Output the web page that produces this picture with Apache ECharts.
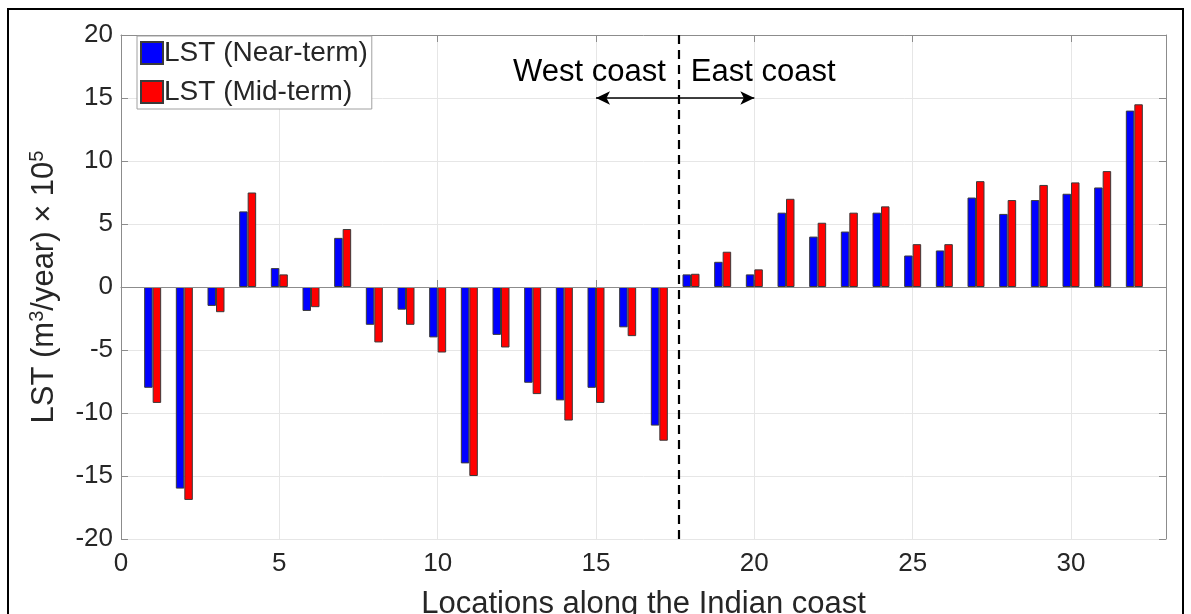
<!DOCTYPE html>
<html><head><meta charset="utf-8">
<script src="https://cdn.jsdelivr.net/npm/echarts@6/dist/echarts.min.js"></script>
<style>html,body{margin:0;padding:0;background:#fff}#c{width:1191px;height:614px}</style>
</head><body><div id="c"></div>
<script>
// ---- data ----
const locations = [1,2,3,4,5,6,7,8,9,10,11,12,13,14,15,16,17,18,19,20,21,22,23,24,25,26,27,28,29,30,31,32];
const nearTerm = [-8.0,-16.0,-1.5,6.0,1.5,-1.9,3.9,-3.0,-1.8,-4.0,-14.0,-3.8,-7.6,-9.0,-8.0,-3.2,-11.0,
                  1.0,2.0,1.0,5.9,4.0,4.4,5.9,2.5,2.9,7.1,5.8,6.9,7.4,7.9,14.0];
const midTerm  = [-9.2,-16.9,-2.0,7.5,1.0,-1.6,4.6,-4.4,-3.0,-5.2,-15.0,-4.8,-8.5,-10.6,-9.2,-3.9,-12.2,
                  1.05,2.8,1.4,7.0,5.1,5.9,6.4,3.4,3.4,8.4,6.9,8.1,8.3,9.2,14.5];
const seriesNames = ['LST (Near-term)', 'LST (Mid-term)'];
const xTicks = [0,5,10,15,20,25,30];
const yTicks = [-20,-15,-10,-5,0,5,10,15,20];
const coastDivider = 17.6;
const arrowFrom = 15, arrowTo = 20, arrowY = 15, textY = 17;
const westLabel = 'West coast', eastLabel = 'East coast';

const chart = echarts.init(document.getElementById('c'));
const font = 'Liberation Sans, Arial, Helvetica, sans-serif';
const txt = '#262626';
const axisGray = '#8c8c8c';

const near = locations.map((x, i) => [x, nearTerm[i]]);
const mid = locations.map((x, i) => [x, midTerm[i]]);

chart.setOption({
  animation: false,
  backgroundColor: '#fff',
  textStyle: { fontFamily: font },
  graphic: [{
    type: 'rect', shape: { x: 8, y: 9, width: 1175, height: 640 },
    style: { fill: 'none', stroke: '#000', lineWidth: 2 }, silent: true, z: 100
  }],
  grid: { left: 121, right: 25, top: 35, bottom: 75, containLabel: false, outerBoundsMode: 'none' },
  legend: {
    data: seriesNames, orient: 'vertical', left: 137, top: 36,
    icon: 'rect', itemWidth: 22, itemHeight: 22, itemGap: 11,
    borderColor: '#a0a0a0', borderWidth: 1, backgroundColor: '#fff',
    padding: [3, 4, 3, 3],
    textStyle: { fontSize: 28, color: txt, fontFamily: font, padding: [0,0,0,-4] }
  },
  xAxis: [{
    type: 'value', min: 0, max: 33, interval: 5,
    name: 'Locations along the Indian coast', nameLocation: 'middle', nameGap: 50,
    nameTextStyle: { fontSize: 31, color: txt, fontFamily: font },
    axisLine: { show: true, lineStyle: { color: axisGray } },
    axisTick: { show: true, inside: true, length: 7, lineStyle: { color: axisGray } },
    axisLabel: { fontSize: 26, color: txt, margin: 12, showMaxLabel: false,
      formatter: v => xTicks.includes(v) ? String(v) : '' },
    splitLine: { show: true, lineStyle: { color: '#e6e6e6' } }
  }, {
    type: 'value', min: 0, max: 33, interval: 5, position: 'top',
    axisLine: { show: true, onZero: false, lineStyle: { color: axisGray } },
    axisTick: { show: true, inside: true, length: 7, lineStyle: { color: axisGray } },
    axisLabel: { show: false }, splitLine: { show: false }
  }],
  yAxis: [{
    type: 'value', min: -20, max: 20, interval: 5,
    name: 'LST (m{sup|3}/year) × 10{sup|5}', nameLocation: 'middle', nameGap: 59, nameRotate: 90,
    nameTextStyle: { fontSize: 31, color: txt, fontFamily: font,
      rich: { sup: { fontSize: 20, verticalAlign: 'top', padding: [0,0,15,0], color: txt, fontFamily: font } } },
    axisLine: { show: true, onZero: false, lineStyle: { color: axisGray } },
    axisTick: { show: true, inside: true, length: 7, lineStyle: { color: axisGray } },
    axisLabel: { fontSize: 26, color: txt, margin: 8,
      formatter: v => yTicks.includes(v) ? String(v) : '' },
    splitLine: { show: true, lineStyle: { color: '#e6e6e6' } }
  }, {
    type: 'value', min: -20, max: 20, interval: 5, position: 'right',
    axisLine: { show: true, onZero: false, lineStyle: { color: axisGray } },
    axisTick: { show: true, inside: true, length: 7, lineStyle: { color: axisGray } },
    axisLabel: { show: false }, splitLine: { show: false }
  }],
  series: [{
    name: seriesNames[0], type: 'bar', data: near, barWidth: 8.5, barGap: '0%',
    itemStyle: { color: '#0000ff', borderColor: '#3a3a3a', borderWidth: 1 }
  }, {
    name: seriesNames[1], type: 'bar', data: mid, barWidth: 8.5, barGap: '0%',
    itemStyle: { color: '#ff0000', borderColor: '#3a3a3a', borderWidth: 1 }
  }, {
    name: 'annotations', type: 'scatter', data: [], silent: true,
    markLine: {
      silent: true, symbol: 'none', z: 5, animation: false,
      label: { show: false },
      data: [
        { yAxis: 0, lineStyle: { color: '#8c8c8c', width: 1.2, type: 'solid' } },
        { xAxis: coastDivider, lineStyle: { color: '#000', width: 2.2, type: [9, 6] } },
        [{ coord: [arrowFrom, arrowY], symbol: 'arrow', symbolSize: [10, 14],
           lineStyle: { color: '#000', width: 1.5, type: 'solid' } },
         { coord: [arrowTo, arrowY], symbol: 'arrow', symbolSize: [10, 14] }]
      ]
    },
    markPoint: {
      silent: true, symbol: 'circle', symbolSize: 1,
      itemStyle: { color: 'rgba(0,0,0,0)' },
      label: { show: true, fontSize: 31, color: '#000', fontFamily: font, distance: 12 },
      data: [
        { coord: [coastDivider, textY], label: { position: 'left', formatter: westLabel } },
        { coord: [coastDivider, textY], label: { position: 'right', formatter: eastLabel } }
      ]
    }
  }]
});
</script></body></html>
